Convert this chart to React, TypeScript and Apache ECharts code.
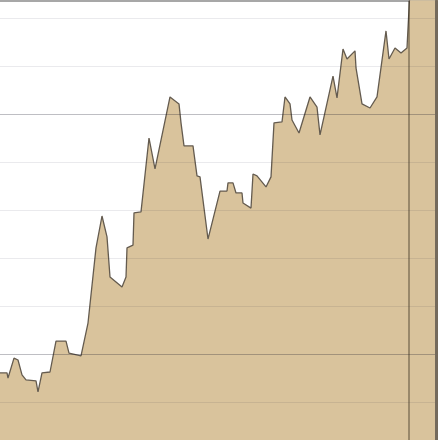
import React, { useEffect, useRef } from "react";
import * as echarts from "echarts";

// trading days (x) and prices (y)
const days = [
  0, 3.5, 4, 7, 9, 11, 13, 18, 19, 21, 25, 28, 33, 34.5, 40.5, 44, 48, 51, 53.5, 55,
  61, 63, 63.5, 66.5, 67, 70.5, 74.5, 77.5, 85, 89.5, 90.5, 92, 96.5, 98.5, 100, 104,
  110, 113.5, 114, 116.5, 118, 121, 121.5, 125.5, 126.5, 128.5, 133, 135.5, 137, 141,
  142.5, 145, 146, 149.5, 155, 158.5, 160, 166.5, 168.5, 171.5, 173.5, 177.5, 178, 181,
  185, 188.5, 193, 194.5, 197.5, 200.5, 203.5, 205.5, 219,
];
const prices = [
  99.21, 99.21, 99.0, 99.83, 99.75, 99.13, 98.92, 98.88, 98.42, 99.21, 99.25, 100.54,
  100.54, 100.04, 99.92, 101.29, 104.42, 105.75, 104.88, 103.21, 102.79, 103.21, 104.42,
  104.54, 105.88, 105.92, 109.0, 107.71, 110.71, 110.42, 109.63, 108.67, 108.67, 107.42,
  107.38, 104.79, 106.79, 106.79, 107.13, 107.13, 106.71, 106.71, 106.29, 106.08, 107.5,
  107.42, 106.96, 107.38, 109.63, 109.67, 110.71, 110.42, 109.75, 109.21, 110.71, 110.29,
  109.13, 111.58, 110.67, 112.71, 112.29, 112.63, 111.92, 110.42, 110.25, 110.71, 113.46,
  112.29, 112.75, 112.54, 112.75, 116, 116,
];
const minorLevels = [98, 102, 104, 106, 108, 112, 114];
const majorLevels = [100, 110];
const markerDay = 204.5;

export default function App() {
  const ref = useRef<HTMLDivElement>(null);
  useEffect(() => {
    if (!ref.current) return;
    const chart = echarts.init(ref.current, null, { renderer: "svg" });
    const data = days.map((d, i) => [d, prices[i]]);
    chart.setOption({
      animation: false,
      backgroundColor: "#ffffff",
      grid: { left: 0, right: 2, top: 1, bottom: 0 },
      xAxis: {
        type: "value",
        min: 0,
        max: 218,
        position: "top",
        axisLine: { show: true, onZero: false, lineStyle: { color: "#8a8a8a", width: 1.5 } },
        axisTick: { show: false },
        axisLabel: { show: false },
        splitLine: { show: false },
      },
      yAxis: {
        type: "value",
        min: 96.4167,
        max: 114.7083,
        position: "right",
        axisLine: { show: true, onZero: false, lineStyle: { color: "#746a5c", width: 3 } },
        axisTick: { show: false },
        axisLabel: { show: false },
        splitLine: { show: false },
        z: 6,
      },
      series: [
        {
          type: "line",
          data,
          symbol: "none",
          lineStyle: { color: "#645b4f", width: 1.3 },
          areaStyle: { color: "#d9c39c", opacity: 1 },
          markLine: {
            silent: true,
            symbol: "none",
            label: { show: false },
            data: [
              ...minorLevels.map((v) => ({
                yAxis: v,
                lineStyle: { color: "rgba(20,20,60,0.09)", width: 1, type: "solid" },
              })),
              ...majorLevels.map((v) => ({
                yAxis: v,
                lineStyle: { color: "rgba(20,20,40,0.28)", width: 1, type: "solid" },
              })),
              {
                xAxis: markerDay,
                lineStyle: { color: "rgba(50,40,25,0.5)", width: 1.5, type: "solid" },
              },
            ],
          },
        },
      ],
    });
    return () => chart.dispose();
  }, []);
  return (
    <div
      ref={ref}
      style={{ position: "fixed", left: 0, top: 0, width: 438, height: 440 }}
    />
  );
}
